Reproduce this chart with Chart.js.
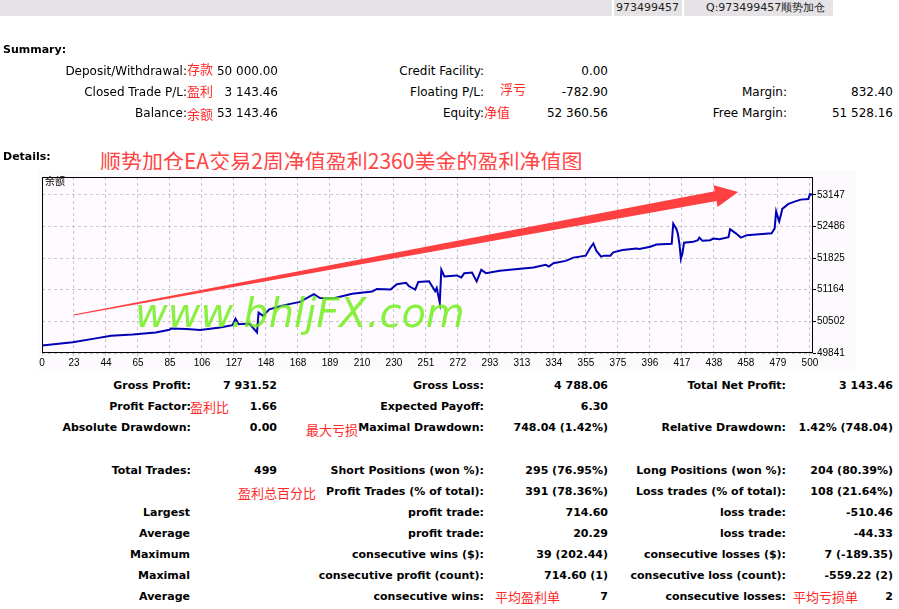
<!DOCTYPE html>
<html>
<head>
<meta charset="utf-8">
<script src="https://cdn.jsdelivr.net/npm/chart.js@4.4.1/dist/chart.umd.min.js"></script>
<style>
body{margin:0;width:899px;height:609px;background:#fff;position:relative;overflow:hidden;font-family:"DejaVu Sans",sans-serif;}
.t{position:absolute;white-space:nowrap;line-height:14px;height:14px;}
.r{transform:translateX(-100%);}
.s{font-size:12px;color:#000;}
.b{font-size:11px;font-weight:bold;color:#000;}
.cn{font-family:"Noto Sans CJK SC",sans-serif;font-size:13px;color:#ff2a2a;}
#bar{position:absolute;left:0;top:0;width:833px;height:16px;background:#e6e3e6;}
.sep{position:absolute;top:0;width:2px;height:16px;background:#fff;}
.bt{position:absolute;top:1px;font-size:11px;line-height:14px;color:#222;white-space:nowrap;}
#title{position:absolute;left:100px;top:148px;font-family:"Noto Sans CJK SC",sans-serif;font-size:21px;line-height:24px;color:#ff4545;white-space:nowrap;}
#box{position:absolute;left:38px;top:170px;width:818px;height:201px;background:#fdfafd;}
#lbl{position:absolute;left:45px;top:175px;font-family:"Noto Sans CJK SC",sans-serif;font-size:10px;line-height:12px;color:#000;}
#wm{position:absolute;left:135px;top:293px;font-family:"DejaVu Sans",sans-serif;font-style:oblique;font-size:40px;line-height:40px;color:rgba(106,239,16,0.8);white-space:nowrap;}
</style>
</head>
<body>
<div id="bar"></div>
<div class="sep" style="left:612px"></div>
<div class="sep" style="left:682px"></div>
<div class="bt" style="left:616px">973499457</div>
<div class="bt" style="left:706px">Q:973499457顺势加仓</div>

<div id="title">顺势加仓EA交易2周净值盈利2360美金的盈利净值图</div>

<div id="box"><canvas id="chart" width="818" height="201"></canvas></div>
<div id="lbl">余额</div>
<div id="wm">www.bhljFX.com</div>

<div id="txt"></div>

<script>
// ===== chart data =====
const xTickLabels = [0, 23, 44, 65, 85, 106, 127, 148, 168, 189, 210, 230, 251, 272, 293, 313, 334, 355, 375, 396, 417, 438, 458, 479, 500];
const yTickLabels = [49841, 50502, 51164, 51825, 52486, 53147];

// trade number and balance/equity at that trade
const tradeNo = [0, 20, 35, 45, 59, 74, 83, 84, 94, 103, 116, 124, 126, 128, 135, 140, 141, 144, 148, 157,
  168, 177, 181, 190, 202, 215, 218, 227, 231, 237, 239, 243, 245, 252, 254, 256, 257, 259, 260, 262,
  270, 273, 275, 280, 283, 286, 289, 298, 320, 328, 330, 333, 341, 346, 354, 357, 359, 361, 364, 366,
  370, 372, 378, 387, 389, 396, 400, 410, 411, 413, 414, 415, 416, 417, 418, 424, 427, 428, 430, 435,
  437, 441, 447, 448, 452, 455, 459, 467, 475, 477, 478, 480, 481, 482, 486, 490, 494, 499, 500, 502];
const balance = [50000, 50064, 50147, 50203, 50229, 50271, 50327, 50353, 50341, 50320, 50374, 50424, 50560, 50444, 50457, 50271, 50684, 50616, 50754, 50837,
  50910, 51070, 50990, 50985, 51080, 51125, 51180, 51167, 51280, 51310, 51236, 51167, 51324, 51339, 51236, 51132, 51200, 50891, 51581, 51442,
  51463, 51421, 51510, 51525, 51339, 51581, 51510, 51560, 51628, 51684, 51649, 51717, 51767, 51835, 51876, 52041, 52130, 51973, 51855, 51876,
  51876, 51944, 51994, 52027, 52014, 52062, 52109, 52124, 52543, 52440, 52337, 52130, 51808, 51924, 52145, 52165, 52200, 52254, 52186, 52200,
  52233, 52221, 52262, 52428, 52337, 52254, 52304, 52324, 52345, 52440, 52800, 52593, 52717, 52853, 52957, 53006, 53047, 53060, 53163, 53143];

// red arrow, in chart units
const arrowFrom = {x: 20.6, y: 50636};
const arrowTo = {x: 453.3, y: 53209};

// ===== report texts =====
// [text, x, y, class, right-aligned]
const texts = [
  ['Summary:', 3, 50, 'b', 0],
  ['Deposit/Withdrawal:', 187, 71, 's', 1], ['存款', 187, 69, 'cn', 0], ['50 000.00', 278, 71, 's', 1],
  ['Closed Trade P/L:', 187, 92, 's', 1], ['盈利', 187, 91, 'cn', 0], ['3 143.46', 278, 92, 's', 1],
  ['Balance:', 187, 113, 's', 1], ['余额', 187, 114, 'cn', 0], ['53 143.46', 278, 113, 's', 1],
  ['Credit Facility:', 484, 71, 's', 1], ['0.00', 608, 71, 's', 1],
  ['Floating P/L:', 484, 92, 's', 1], ['浮亏', 500, 89, 'cn', 0], ['-782.90', 608, 92, 's', 1],
  ['Equity:', 484, 113, 's', 1], ['净值', 484, 112, 'cn', 0], ['52 360.56', 608, 113, 's', 1],
  ['Margin:', 787, 92, 's', 1], ['832.40', 893, 92, 's', 1],
  ['Free Margin:', 787, 113, 's', 1], ['51 528.16', 893, 113, 's', 1],
  ['Details:', 3, 157, 'b', 0],

  ['Gross Profit:', 191, 386, 'b', 1], ['7 931.52', 277, 386, 'b', 1],
  ['Gross Loss:', 484, 386, 'b', 1], ['4 788.06', 608, 386, 'b', 1],
  ['Total Net Profit:', 786, 386, 'b', 1], ['3 143.46', 893, 386, 'b', 1],
  ['Profit Factor:', 191, 407, 'b', 1], ['盈利比', 190, 407, 'cn', 0], ['1.66', 277, 407, 'b', 1],
  ['Expected Payoff:', 484, 407, 'b', 1], ['6.30', 608, 407, 'b', 1],
  ['Absolute Drawdown:', 191, 428, 'b', 1], ['0.00', 277, 428, 'b', 1],
  ['最大亏损', 358, 430, 'cn', 1], ['Maximal Drawdown:', 484, 428, 'b', 1], ['748.04 (1.42%)', 608, 428, 'b', 1],
  ['Relative Drawdown:', 786, 428, 'b', 1], ['1.42% (748.04)', 893, 428, 'b', 1],
  ['Total Trades:', 191, 471, 'b', 1], ['499', 277, 471, 'b', 1],
  ['Short Positions (won %):', 484, 471, 'b', 1], ['295 (76.95%)', 608, 471, 'b', 1],
  ['Long Positions (won %):', 786, 471, 'b', 1], ['204 (80.39%)', 893, 471, 'b', 1],
  ['盈利总百分比', 316, 493, 'cn', 1], ['Profit Trades (% of total):', 484, 492, 'b', 1], ['391 (78.36%)', 608, 492, 'b', 1],
  ['Loss trades (% of total):', 786, 492, 'b', 1], ['108 (21.64%)', 893, 492, 'b', 1],
  ['Largest', 190, 513, 'b', 1], ['profit trade:', 484, 513, 'b', 1], ['714.60', 608, 513, 'b', 1],
  ['loss trade:', 786, 513, 'b', 1], ['-510.46', 893, 513, 'b', 1],
  ['Average', 190, 534, 'b', 1], ['profit trade:', 484, 534, 'b', 1], ['20.29', 608, 534, 'b', 1],
  ['loss trade:', 786, 534, 'b', 1], ['-44.33', 893, 534, 'b', 1],
  ['Maximum', 190, 555, 'b', 1], ['consecutive wins ($):', 484, 555, 'b', 1], ['39 (202.44)', 608, 555, 'b', 1],
  ['consecutive losses ($):', 786, 555, 'b', 1], ['7 (-189.35)', 893, 555, 'b', 1],
  ['Maximal', 190, 576, 'b', 1], ['consecutive profit (count):', 484, 576, 'b', 1], ['714.60 (1)', 608, 576, 'b', 1],
  ['consecutive loss (count):', 786, 576, 'b', 1], ['-559.22 (2)', 893, 576, 'b', 1],
  ['Average', 190, 597, 'b', 1], ['consecutive wins:', 484, 597, 'b', 1], ['平均盈利单', 495, 597, 'cn', 0], ['7', 608, 597, 'b', 1],
  ['consecutive losses:', 786, 597, 'b', 1], ['平均亏损单', 793, 597, 'cn', 0], ['2', 893, 597, 'b', 1]
];

const holder = document.getElementById('txt');
texts.forEach(([s, x, y, cls, right]) => {
    const d = document.createElement('div');
    d.className = 't ' + cls + (right ? ' r' : '');
    d.style.left = x + 'px';
    d.style.top = (y - 7) + 'px';
    d.textContent = s;
    holder.appendChild(d);
});

// background, frame and arrow
const decor = {
    id: 'decor',
    beforeDraw(chart) {
        const {ctx, chartArea: a} = chart;
        ctx.save();
        ctx.fillStyle = '#fffaff';
        ctx.fillRect(a.left, a.top, a.right - a.left, a.bottom - a.top);
        ctx.restore();
    },
    afterDraw(chart) {
        const {ctx, chartArea: a, scales: {x, y}} = chart;
        ctx.save();
        ctx.strokeStyle = '#000';
        ctx.lineWidth = 1;
        ctx.strokeRect(Math.round(a.left) + 0.5, Math.round(a.top) + 0.5,
            Math.round(a.right - a.left) - 1, Math.round(a.bottom - a.top) - 1);

        const x0 = x.getPixelForValue(arrowFrom.x), y0 = y.getPixelForValue(arrowFrom.y);
        const x1 = x.getPixelForValue(arrowTo.x), y1 = y.getPixelForValue(arrowTo.y);
        const dx = x1 - x0, dy = y1 - y0, len = Math.hypot(dx, dy);
        const ux = dx / len, uy = dy / len, nx = -uy, ny = ux;
        const headLen = 23, headW = 11, shaftW = 5, tailW = 0.6;
        const bx = x1 - ux * headLen, by = y1 - uy * headLen;
        ctx.fillStyle = '#ff4040';
        ctx.beginPath();
        ctx.moveTo(x0 + nx * tailW, y0 + ny * tailW);
        ctx.lineTo(bx + nx * shaftW, by + ny * shaftW);
        ctx.lineTo(bx + nx * headW, by + ny * headW);
        ctx.lineTo(x1, y1);
        ctx.lineTo(bx - nx * headW, by - ny * headW);
        ctx.lineTo(bx - nx * shaftW, by - ny * shaftW);
        ctx.lineTo(x0 - nx * tailW, y0 - ny * tailW);
        ctx.closePath();
        ctx.fill();
        ctx.restore();
    }
};

const tickFont = {family: 'Liberation Sans', size: 10};

new Chart(document.getElementById('chart'), {
    type: 'line',
    data: {
        datasets: [{
            data: tradeNo.map((t, i) => ({x: t, y: balance[i]})),
            borderColor: '#0000b4',
            borderWidth: 2,
            pointRadius: 0,
            tension: 0,
            fill: false
        }]
    },
    options: {
        responsive: false,
        animation: false,
        layout: {padding: {left: 4, top: 4, right: 0, bottom: 0}},
        plugins: {legend: {display: false}, tooltip: {enabled: false}},
        scales: {
            x: {
                type: 'linear',
                min: 0,
                max: 502,
                afterBuildTicks: s => {
                    s.ticks = xTickLabels.map((v, i) => ({value: i * 500 / (xTickLabels.length - 1)}));
                },
                afterFit: s => { s.height = 18; },
                ticks: {
                    callback: (v, i) => String(xTickLabels[i]),
                    color: '#000', font: tickFont, padding: 1,
                    maxRotation: 0, autoSkip: false
                },
                grid: {color: '#c8c8c8', tickLength: 3, tickColor: '#c8c8c8', tickBorderDash: []},
                border: {display: false, dash: [3, 3]}
            },
            y: {
                position: 'right',
                min: 49841,
                max: 53520,
                afterBuildTicks: s => {
                    s.ticks = yTickLabels.map(v => ({value: v}));
                },
                afterFit: s => { s.width = 43; },
                ticks: {
                    callback: (v, i) => String(yTickLabels[i]),
                    color: '#000', font: tickFont, padding: 1, autoSkip: false
                },
                grid: {color: '#c8c8c8', tickLength: 3, tickColor: '#000', tickBorderDash: []},
                border: {display: false, dash: [3, 3]}
            }
        }
    },
    plugins: [decor]
});
</script>
</body>
</html>
